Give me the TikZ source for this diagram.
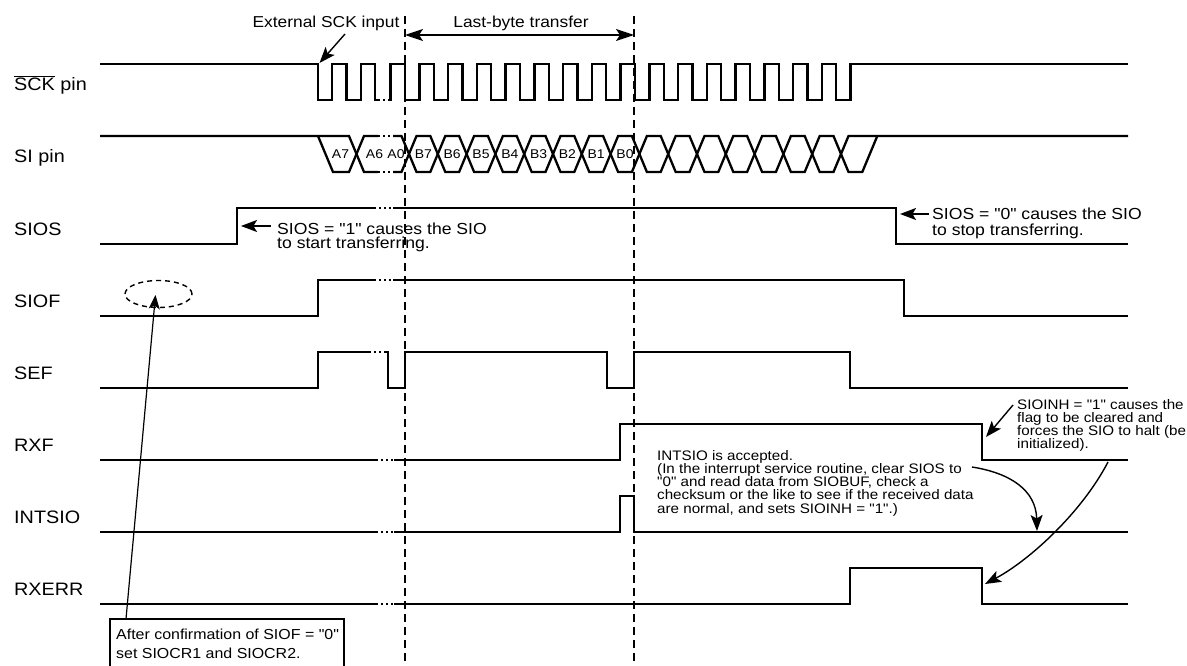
\documentclass[tikz,border=0pt]{standalone}
\usepackage{fontspec}
\setmainfont{Liberation Sans}
\newfontfamily\wf[FakeStretch=1.1]{Liberation Sans}
\usetikzlibrary{arrows.meta,shapes.geometric}
\newcommand\ovlbar[1]{\leavevmode\vbox{\hrule height 1.2pt\kern 1.6pt\hbox{#1}}}
\begin{document}
\begin{tikzpicture}[x=1pt,y=-1pt,
  sig/.style={line width=2.3pt},
  gap/.style={line width=2.3pt, dash pattern=on 2.4pt off 2.6pt},
  guide/.style={line width=1.5pt, dash pattern=on 8pt off 5pt},
  pointer/.style={line width=1.4pt, -{Stealth[length=16pt,width=12pt,inset=3.5pt]}},
  lbl/.style={font=\wf\fontsize{18}{20}\selectfont, anchor=base west, inner sep=0pt},
  ann/.style={font=\wf\fontsize{16}{16}\selectfont, anchor=base west, inner sep=0pt},
  note/.style={font=\wf\fontsize{13.8}{13.3}\selectfont, anchor=base west, inner sep=0pt},
  bit/.style={font=\wf\fontsize{12.7}{13}\selectfont, anchor=base, inner sep=0pt},
  box/.style={font=\wf\fontsize{14.5}{17}\selectfont, anchor=base west, inner sep=0pt}]
\path[use as bounding box] (0,0) rectangle (1187,666);

% ---------- signal labels ----------
\node[lbl] (lSCK) at (14,91) {\ovlbar{SCK} pin};
\node[lbl] (lSI) at (14,163) {SI pin};
\node[lbl] (lSIOS) at (14,235) {SIOS};
\node[lbl] (lSIOF) at (14,307) {SIOF};
\node[lbl] (lSEF) at (14,379) {SEF};
\node[lbl] (lRXF) at (14,451) {RXF};
\node[lbl] (lINT) at (14,523) {INTSIO};
\node[lbl] (lRXE) at (14,595) {RXERR};

% ---------- SCK ----------
\draw[sig] (100,64) -- (318,64) -- (318,100) -- (332.3,100) -- (332.3,64) -- (346.6,64)
  -- (346.6,100) -- (360.9,100) -- (360.9,64) -- (375.2,64) -- (375.2,100) -- (378,100);
\draw[gap] (378,100) -- (388,100);
\draw[sig] (388,100) -- (390.6,100)
  \foreach \k in {0,...,15}{ -- ({390.6+28.75*\k},64) -- ({405+28.75*\k},64)
     -- ({405+28.75*\k},100) -- ({390.6+28.75*(\k+1)},100) }
  -- (850.6,64) -- (1128,64);

% ---------- SI bus ----------
\draw[sig] (100,136) -- (349,136) -- (364,172) -- (378,172);
\draw[sig] (318,136) -- (333,172) -- (349,172) -- (364,136) -- (378,136);
\draw[gap] (378,136) -- (393,136);
\draw[gap] (378,172) -- (393,172);
\draw[sig] (393,136) -- (401.5,136)
  \foreach \k in {0,2,...,14}{ -- ({409+28.8*\k+7.5},172) -- ({409+28.8*(\k+1)-7.5},172)
     -- ({409+28.8*(\k+1)+7.5},136) -- ({409+28.8*(\k+2)-7.5},136) } -- (1128,136);
\draw[sig] (393,172) -- (401.5,172)
  \foreach \k in {0,2,...,14}{ -- ({409+28.8*\k+7.5},136) -- ({409+28.8*(\k+1)-7.5},136)
     -- ({409+28.8*(\k+1)+7.5},172) -- ({409+28.8*(\k+2)-7.5},172) } -- (877.3,136);
\node[bit] (bA7) at (340.5,158.6) {A7};
\node[bit] (bA6) at (374.5,158.6) {A6};
\node[bit] (bA0) at (396,158.6) {A0};
\foreach \n [count=\i from 0] in {B7,B6,B5,B4,B3,B2,B1,B0}
  \node[bit] (b\n) at ({409+28.8*(\i+0.5)},158.6) {\n};

% ---------- SIOS ----------
\draw[sig] (100,244) -- (237,244) -- (237,208) -- (374,208);
\draw[gap] (374,208) -- (393,208);
\draw[sig] (393,208) -- (896,208) -- (896,244) -- (1128,244);

% ---------- SIOF ----------
\draw[sig] (100,316) -- (318,316) -- (318,280) -- (374,280);
\draw[gap] (374,280) -- (393,280);
\draw[sig] (393,280) -- (904,280) -- (904,316) -- (1128,316);

% ---------- SEF ----------
\draw[sig] (100,388) -- (318,388) -- (318,352) -- (369,352);
\draw[gap] (369,352) -- (385,352);
\draw[sig] (385,352) -- (388,352) -- (388,388) -- (405,388) -- (405,352) -- (607,352)
  -- (607,388) -- (634,388) -- (634,352) -- (850,352) -- (850,388) -- (1128,388);

% ---------- RXF ----------
\draw[sig] (100,460) -- (376,460);
\draw[gap] (376,460) -- (394,460);
\draw[sig] (394,460) -- (620,460) -- (620,424) -- (982,424) -- (982,460) -- (1128,460);

% ---------- INTSIO ----------
\draw[sig] (100,532) -- (376,532);
\draw[gap] (376,532) -- (394,532);
\draw[sig] (394,532) -- (620,532) -- (620,496) -- (634,496) -- (634,532) -- (1128,532);

% ---------- RXERR ----------
\draw[sig] (100,604) -- (376,604);
\draw[gap] (376,604) -- (394,604);
\draw[sig] (394,604) -- (850,604) -- (850,568) -- (982,568) -- (982,604) -- (1128,604);

% ---------- guide lines ----------
\coordinate (g1t) at (405,16);
\coordinate (g1b) at (405,662);
\coordinate (g2t) at (634,16);
\coordinate (g2b) at (634,662);
\draw[guide] (g1t) -- (g1b);
\draw[guide] (g2t) -- (g2b);

% ---------- top annotations ----------
\node[ann, font=\wf\fontsize{15.8}{16}\selectfont, anchor=base] (tExt) at (326,27.7) {External SCK input};
\coordinate (extA) at (345,34);
\coordinate (extB) at (319.5,63);
\draw[pointer] (extA) -- (extB);
\node[ann, font=\wf\fontsize{15.8}{16}\selectfont, anchor=base] (tLast) at (521,27.7) {Last-byte transfer};
\coordinate (lbA) at (405,35);
\coordinate (lbB) at (634,35);
\draw[line width=1.4pt, {Stealth[length=18pt,width=12pt,inset=4pt]}-{Stealth[length=18pt,width=12pt,inset=4pt]}] (lbA) -- (lbB);

% ---------- SIOS annotations ----------
\node[ann] (s1a) at (277,234.8) {SIOS = "1" causes the SIO};
\node[ann] (s1b) at (277,248.8) {to start transferring.};
\coordinate (s1t) at (241,226);
\draw[pointer] (271,226) -- (s1t);
\node[ann] (s0a) at (932,219.8) {SIOS = "0" causes the SIO};
\node[ann] (s0b) at (932,235) {to stop transferring.};
\coordinate (s0t) at (900,214);
\draw[pointer] (929,214) -- (s0t);

% ---------- SIOINH note ----------
\node[note] (h1) at (1017,409) {SIOINH = "1" causes the};
\node[note] (h2) at (1017,422.3) {flag to be cleared and};
\node[note] (h3) at (1017,435.6) {forces the SIO to halt (be};
\node[note] (h4) at (1017,448.9) {initialized).};
\coordinate (hA) at (1013,405);
\coordinate (hB) at (986,437);
\draw[pointer] (hA) -- (hB);

% ---------- INTSIO note ----------
\node[note] (i1) at (657,460) {INTSIO is accepted.};
\node[note] (i2) at (657,473.3) {(In the interrupt service routine, clear SIOS to};
\node[note] (i3) at (657,486.6) {"0" and read data from SIOBUF, check a};
\node[note] (i4) at (657,499.9) {checksum or the like to see if the received data};
\node[note] (i5) at (657,513.2) {are normal, and sets SIOINH = "1".)};
\coordinate (cA) at (972,467);
\coordinate (cB) at (1037,531);
\draw[pointer] (cA) .. controls (1010,473) and (1036,490) .. (cB);
\coordinate (dA) at (1108,462);
\coordinate (dB) at (985,584);
\draw[pointer] (dA) .. controls (1082,512) and (1030,560) .. (dB);

% ---------- SIOF ellipse and bottom note ----------
\node[draw, ellipse, minimum width=67pt, minimum height=27pt, inner sep=0pt,
  line width=1.4pt, dash pattern=on 5pt off 4pt] (ell) at (158.5,294) {};
\draw[line width=1.2pt] (110,667) -- (110,619) -- (344,619) -- (344,667);
\node[box] (n1) at (116,639.2) {After confirmation of SIOF = "0"};
\node[box] (n2) at (116,658.2) {set SIOCR1 and SIOCR2.};
\coordinate (nA) at (126,619);
\coordinate (nB) at (155.5,295);
\draw[line width=1.2pt, -{Stealth[length=14pt,width=11pt,inset=3.5pt]}] (nA) -- (nB);
\end{tikzpicture}
\end{document}
